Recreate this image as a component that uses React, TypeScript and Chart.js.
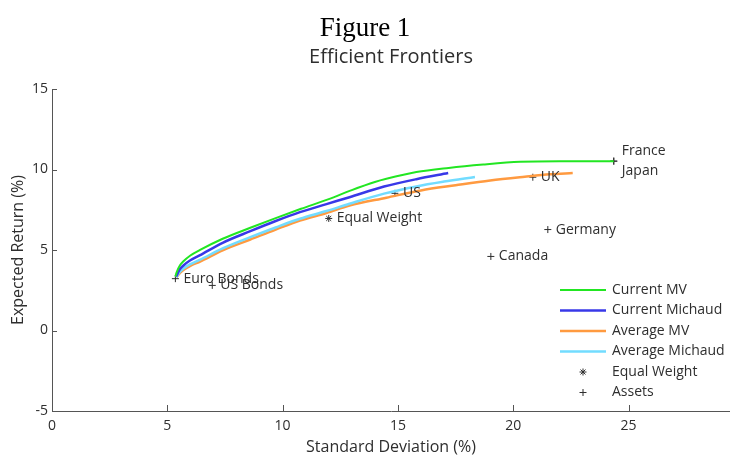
import React, { useEffect, useRef } from 'react';
import { Chart, registerables } from 'chart.js';

Chart.register(...registerables);

// ---- data ----
const xTicks = [0, 5, 10, 15, 20, 25];
const yTicks = [-5, 0, 5, 10, 15];

const currentMvSd = [5.35, 5.4, 5.55, 5.7, 6.0, 6.4, 7.4, 8.6, 9.7, 10.8, 12.0, 13.0, 14.0, 14.5, 15.8, 17.2, 18.7, 20.3, 22.0, 24.36];
const currentMvRet = [3.35, 3.6, 4.05, 4.3, 4.66, 4.99, 5.7, 6.38, 6.98, 7.56, 8.16, 8.72, 9.22, 9.42, 9.84, 10.1, 10.31, 10.48, 10.52, 10.52];

const currentMichaudSd = [5.38, 5.45, 5.55, 5.7, 6.0, 6.4, 7.4, 8.6, 9.7, 10.75, 11.9, 12.9, 14.4, 15.8, 17.18];
const currentMichaudRet = [3.35, 3.55, 3.82, 4.04, 4.36, 4.66, 5.45, 6.17, 6.8, 7.35, 7.85, 8.28, 8.94, 9.4, 9.78];

const averageMvSd = [5.4, 5.45, 5.55, 5.7, 6.0, 6.4, 7.4, 8.6, 9.7, 10.75, 11.9, 12.9, 14.5, 16.0, 17.5, 19.0, 20.5, 21.6, 22.58];
const averageMvRet = [3.3, 3.4, 3.58, 3.76, 4.02, 4.27, 4.98, 5.65, 6.27, 6.83, 7.3, 7.76, 8.25, 8.7, 9.02, 9.32, 9.55, 9.7, 9.78];

const averageMichaudSd = [5.4, 5.45, 5.55, 5.7, 6.0, 6.4, 7.4, 8.6, 9.7, 10.75, 11.9, 12.9, 14.4, 15.8, 17.0, 18.34];
const averageMichaudRet = [3.3, 3.45, 3.66, 3.85, 4.12, 4.38, 5.1, 5.8, 6.4, 6.94, 7.42, 7.87, 8.5, 8.95, 9.25, 9.54];

const equalWeightSd = [12.0];
const equalWeightRet = [6.96];

const assetNames = ['Euro Bonds', 'US Bonds', 'US', 'UK', 'Germany', 'Canada', 'France', 'Japan'];
const assetSd = [5.35, 6.95, 14.87, 20.85, 21.5, 19.03, 24.36, 24.36];
const assetRet = [3.22, 2.8, 8.52, 9.52, 6.27, 4.6, 10.52, 10.52];

const seriesNames = ['Current MV', 'Current Michaud', 'Average MV', 'Average Michaud', 'Equal Weight', 'Assets'];

const SANS = "'Open Sans', 'DejaVu Sans', sans-serif";
const NARROW = "'Liberation Sans Narrow', 'Open Sans', sans-serif";
const SERIF = "'Liberation Serif', 'Times New Roman', serif";

const GREEN = '#22e622';
const BLUE = '#3838e8';
const ORANGE = '#ff9a40';
const CYAN = '#72dcff';
const INK = '#2e2e2e';
const AXIS = '#555555';

const pts = (xs: number[], ys: number[]) => xs.map((x, i) => ({ x, y: ys[i] }));

function drawMarker(ctx: CanvasRenderingContext2D, kind: string, x: number, y: number, r: number) {
  ctx.beginPath();
  ctx.moveTo(x - r, y);
  ctx.lineTo(x + r, y);
  ctx.moveTo(x, y - r);
  ctx.lineTo(x, y + r);
  if (kind === 'star') {
    const d = r * Math.SQRT1_2;
    ctx.moveTo(x - d, y - d);
    ctx.lineTo(x + d, y + d);
    ctx.moveTo(x - d, y + d);
    ctx.lineTo(x + d, y - d);
  }
  ctx.stroke();
}

const decorPlugin = {
  id: 'decor',
  afterDraw(chart: any) {
    const { ctx, chartArea } = chart;
    const xs = chart.scales.x;
    const ys = chart.scales.y;
    ctx.save();

    // titles
    ctx.fillStyle = '#000';
    ctx.textAlign = 'center';
    ctx.textBaseline = 'alphabetic';
    ctx.font = `27px ${SERIF}`;
    ctx.fillText('Figure 1', chart.width / 2, 36);
    ctx.fillStyle = INK;
    ctx.font = `20px ${SANS}`;
    ctx.textBaseline = 'middle';
    ctx.fillText('Efficient Frontiers', (chartArea.left + chartArea.right) / 2, 57);

    // axis titles
    ctx.font = `16px ${SANS}`;
    ctx.fillText('Standard Deviation (%)', (chartArea.left + chartArea.right) / 2, 447);
    ctx.save();
    ctx.translate(18, (chartArea.top + chartArea.bottom) / 2);
    ctx.rotate(-Math.PI / 2);
    ctx.fillText('Expected Return (%)', 0, 0);
    ctx.restore();

    // inward ticks
    ctx.strokeStyle = AXIS;
    ctx.lineWidth = 1;
    ctx.beginPath();
    xTicks.forEach((v) => {
      const px = Math.round(xs.getPixelForValue(v)) + 0.5;
      ctx.moveTo(px, chartArea.bottom);
      ctx.lineTo(px, chartArea.bottom - 6);
    });
    yTicks.forEach((v) => {
      const py = Math.round(ys.getPixelForValue(v)) + 0.5;
      ctx.moveTo(chartArea.left, py);
      ctx.lineTo(chartArea.left + 5, py);
    });
    ctx.stroke();

    // point labels
    ctx.fillStyle = INK;
    ctx.font = `14px ${SANS}`;
    ctx.textAlign = 'left';
    ctx.textBaseline = 'middle';
    const groups: { sd: number; ret: number; names: string[] }[] = [];
    assetNames.forEach((n, i) => {
      const g = groups.find((q) => q.sd === assetSd[i] && q.ret === assetRet[i]);
      if (g) g.names.push(n);
      else groups.push({ sd: assetSd[i], ret: assetRet[i], names: [n] });
    });
    groups.push({ sd: equalWeightSd[0], ret: equalWeightRet[0], names: [seriesNames[4]] });
    groups.forEach((g) => {
      const px = xs.getPixelForValue(g.sd);
      const py = ys.getPixelForValue(g.ret);
      g.names.forEach((n, k) => {
        ctx.fillText(n, px + 8, py + (k - (g.names.length - 1) / 2) * 20);
      });
    });

    // legend
    const lx = chartArea.right - 170;
    const ly = chartArea.bottom - 121;
    const step = 20.5;
    chart.data.datasets.forEach((ds: any, i: number) => {
      const y = ly + i * step;
      if (i < 4) {
        ctx.strokeStyle = ds.borderColor;
        ctx.lineWidth = ds.borderWidth;
        ctx.beginPath();
        ctx.moveTo(lx, y);
        ctx.lineTo(lx + 46, y);
        ctx.stroke();
      } else {
        ctx.strokeStyle = INK;
        ctx.lineWidth = 1;
        drawMarker(ctx, ds.pointStyle, lx + 23, y, 3.5);
      }
      ctx.fillStyle = INK;
      ctx.fillText(ds.label, lx + 52, y);
    });

    ctx.restore();
  },
};

export default function App() {
  const ref = useRef<HTMLCanvasElement | null>(null);

  useEffect(() => {
    if (!ref.current) return;
    const lineDs = (label: string, data: any, color: string, width: number) => ({
      label,
      data,
      showLine: true,
      borderColor: color,
      backgroundColor: color,
      borderWidth: width,
      pointRadius: 0,
      fill: false,
      cubicInterpolationMode: 'monotone' as const,
    });
    const datasets: any[] = [
      lineDs(seriesNames[0], pts(currentMvSd, currentMvRet), GREEN, 2),
      lineDs(seriesNames[1], pts(currentMichaudSd, currentMichaudRet), BLUE, 2.5),
      lineDs(seriesNames[2], pts(averageMvSd, averageMvRet), ORANGE, 2.5),
      lineDs(seriesNames[3], pts(averageMichaudSd, averageMichaudRet), CYAN, 2.5),
      {
        label: seriesNames[4],
        data: pts(equalWeightSd, equalWeightRet),
        pointStyle: 'star',
        pointRadius: 3.5,
        borderColor: INK,
        borderWidth: 1,
        showLine: false,
      },
      {
        label: seriesNames[5],
        data: pts(assetSd, assetRet),
        pointStyle: 'cross',
        pointRadius: 3.5,
        borderColor: INK,
        borderWidth: 1,
        showLine: false,
      },
    ];
    datasets[0].order = 0;
    datasets[1].order = 1;
    datasets[3].order = 2;
    datasets[2].order = 3;
    datasets[4].order = 4;
    datasets[5].order = 5;

    const chart = new Chart(ref.current, {
      type: 'scatter',
      data: { datasets },
      options: {
        animation: false,
        responsive: false,
        devicePixelRatio: 1,
        events: [],
        layout: { autoPadding: false, padding: { top: 89, left: 0, right: 0, bottom: 0 } },
        plugins: { legend: { display: false }, tooltip: { enabled: false }, title: { display: false } },
        scales: {
          x: {
            type: 'linear',
            min: 0,
            max: 29.4,
            afterBuildTicks: (s: any) => {
              s.ticks = xTicks.map((v) => ({ value: v }));
            },
            afterFit: (s: any) => {
              s.height = 45;
              s.paddingLeft = 0;
              s.paddingRight = 0;
            },
            grid: { display: true, drawOnChartArea: false, drawTicks: false },
            border: { display: true, color: AXIS, width: 1 },
            ticks: { font: { family: NARROW, size: 14 }, color: INK, padding: 7, maxRotation: 0 },
          },
          y: {
            type: 'linear',
            min: -5,
            max: 15,
            afterBuildTicks: (s: any) => {
              s.ticks = yTicks.map((v) => ({ value: v }));
            },
            afterFit: (s: any) => {
              s.width = 52;
            },
            grid: { display: true, drawOnChartArea: false, drawTicks: false },
            border: { display: true, color: AXIS, width: 1 },
            ticks: { font: { family: NARROW, size: 14 }, color: INK, padding: 4 },
          },
        },
      },
      plugins: [decorPlugin],
    });
    return () => chart.destroy();
  }, []);

  return (
    <div style={{ position: 'absolute', left: 0, top: 0, width: 730, height: 456, background: '#fff' }}>
      <canvas ref={ref} width={730} height={456} />
    </div>
  );
}
